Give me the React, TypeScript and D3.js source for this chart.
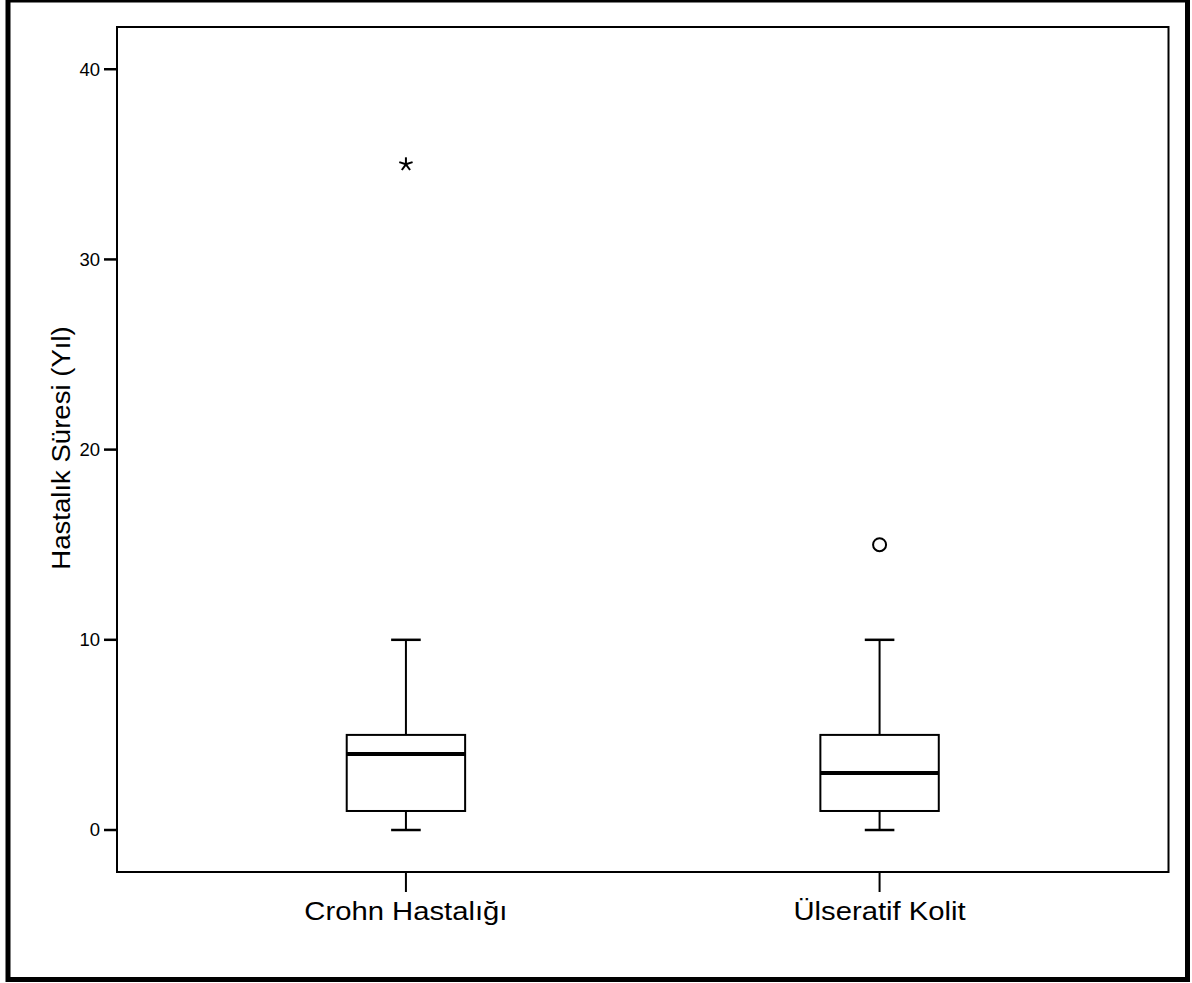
import React from 'react';
import { scaleLinear, scalePoint } from 'd3';

const categories = ['Crohn Hastalığı', 'Ülseratif Kolit'];
const whiskerLow = [0, 0];
const q1 = [1, 1];
const median = [4, 3];
const q3 = [5, 5];
const whiskerHigh = [10, 10];
// aşırı uç değerler (*) ve uç değerler (o)
const extremes = [[35], []];
const outliers = [[], [15]];
const yTicks = [0, 10, 20, 30, 40];

const W = 1192;
const H = 983;
const plot = { left: 117, right: 1168.5, top: 27, bottom: 872 };
const font = '"Liberation Sans", Arial, Helvetica, sans-serif';

export default function App() {
    const y = scaleLinear().domain([-2.208, 42.22]).range([plot.bottom, plot.top]);
    const x = scalePoint().domain(categories).range([plot.left, plot.right]).padding(0.61);
    const boxW = x.step() * 0.25;
    const capW = boxW * 0.25;

    return (
        <svg width={W} height={H} style={{ position: 'absolute', left: 0, top: 0, background: '#fff' }}>
            <rect x={8} y={0} width={1179.5} height={979.5} fill="none" stroke="#000" strokeWidth={5} />

            <rect
                x={plot.left}
                y={plot.top}
                width={plot.right - plot.left}
                height={plot.bottom - plot.top}
                fill="none"
                stroke="#000"
                strokeWidth={2}
            />

            {yTicks.map((t) => (
                <g key={t}>
                    <line x1={104} x2={plot.left} y1={y(t)} y2={y(t)} stroke="#000" strokeWidth={2.5} />
                    <text
                        x={100}
                        y={y(t)}
                        dy="0.35em"
                        textAnchor="end"
                        fontFamily={font}
                        fontSize={18.5}
                    >
                        {t}
                    </text>
                </g>
            ))}

            {/* eksen başlığı, yazı yönünde biraz geniş */}
            <text
                transform={`translate(70, 448) rotate(-90) scale(1.06, 1)`}
                textAnchor="middle"
                fontFamily={font}
                fontSize={26}
            >
                Hastalık Süresi (Yıl)
            </text>

            {categories.map((c, i) => {
                const cx = x(c) ?? 0;
                return (
                    <g key={c}>
                        <line x1={cx} x2={cx} y1={plot.bottom} y2={892} stroke="#000" strokeWidth={2} />
                        <text
                            transform={`translate(${cx}, 920) scale(1.125, 1)`}
                            textAnchor="middle"
                            fontFamily={font}
                            fontSize={26}
                        >
                            {c}
                        </text>

                        <line x1={cx} x2={cx} y1={y(whiskerHigh[i])} y2={y(q3[i])} stroke="#000" strokeWidth={2} />
                        <line x1={cx} x2={cx} y1={y(q1[i])} y2={y(whiskerLow[i])} stroke="#000" strokeWidth={2} />
                        <line
                            x1={cx - capW / 2}
                            x2={cx + capW / 2}
                            y1={y(whiskerHigh[i])}
                            y2={y(whiskerHigh[i])}
                            stroke="#000"
                            strokeWidth={2.5}
                        />
                        <line
                            x1={cx - capW / 2}
                            x2={cx + capW / 2}
                            y1={y(whiskerLow[i])}
                            y2={y(whiskerLow[i])}
                            stroke="#000"
                            strokeWidth={2.5}
                        />
                        <rect
                            x={cx - boxW / 2}
                            y={y(q3[i])}
                            width={boxW}
                            height={y(q1[i]) - y(q3[i])}
                            fill="#fff"
                            stroke="#000"
                            strokeWidth={2}
                        />
                        <line
                            x1={cx - boxW / 2}
                            x2={cx + boxW / 2}
                            y1={y(median[i])}
                            y2={y(median[i])}
                            stroke="#000"
                            strokeWidth={4}
                        />

                        {outliers[i].map((v, j) => (
                            <circle key={`o-${j}`} cx={cx} cy={y(v)} r={6.5} fill="none" stroke="#000" strokeWidth={2} />
                        ))}
                        {extremes[i].map((v, j) => (
                            <g key={`e-${j}`} transform={`translate(${cx}, ${y(v)})`} stroke="#000" strokeWidth={2}>
                                {[90, 18, 162, 234, 306].map((a) => {
                                    const r = 7;
                                    const rad = (a * Math.PI) / 180;
                                    return (
                                        <line
                                            key={a}
                                            x1={0}
                                            y1={0}
                                            x2={Math.cos(rad) * r}
                                            y2={-Math.sin(rad) * r}
                                        />
                                    );
                                })}
                            </g>
                        ))}
                    </g>
                );
            })}
        </svg>
    );
}
